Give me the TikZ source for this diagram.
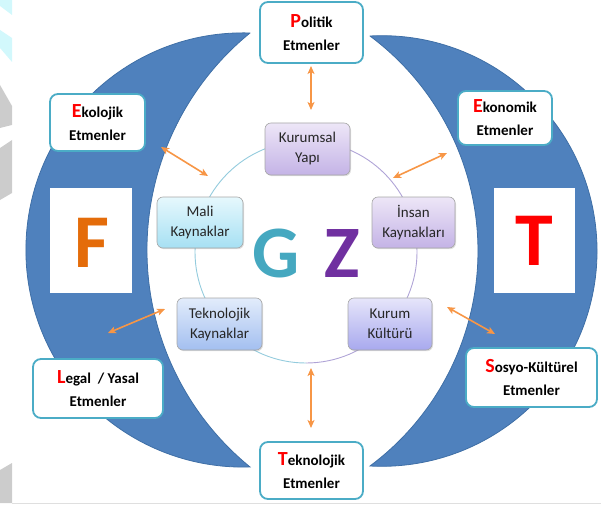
\documentclass[tikz,border=0pt]{standalone}
\usepackage{fontspec}
\setmainfont{Carlito}
\usetikzlibrary{arrows.meta,shadows}
\definecolor{cresc}{HTML}{4F81BD}
\definecolor{crescline}{HTML}{3F6FA6}
\definecolor{boxcyan}{HTML}{4BACC6}
\definecolor{arrorange}{HTML}{F79646}
\definecolor{lettF}{HTML}{E46C0A}
\definecolor{lettG}{HTML}{45A8C0}
\definecolor{lettZ}{HTML}{7030A0}
\definecolor{wmcyan}{HTML}{D2F8FC}
\definecolor{wmgray}{HTML}{CCCCCC}
\definecolor{txt}{HTML}{262626}
\definecolor{circL}{HTML}{93CBDD}
\definecolor{circR}{HTML}{AFA3D6}
\definecolor{lavT}{HTML}{EDE6F7}
\definecolor{lavB}{HTML}{C4B3E6}
\definecolor{cyT}{HTML}{E6F8FD}
\definecolor{cyB}{HTML}{A6E0F3}
\definecolor{blT}{HTML}{E2ECFB}
\definecolor{blB}{HTML}{A3BFF0}
\definecolor{pbT}{HTML}{E6E5FA}
\definecolor{pbB}{HTML}{A8A9EE}
\newcommand{\redl}[1]{{\fontsize{20}{23}\selectfont\color{red}#1}}
\begin{document}
\begin{tikzpicture}[x=1pt,y=-1pt,
  crescent/.style={fill=cresc,draw=crescline,line width=0.8pt},
  outerbox/.style={draw=boxcyan,line width=1.8pt,fill=white,rounded corners=8pt,
    align=center,inner sep=0pt,text=black,font=\bfseries\fontsize{15}{23}\selectfont},
  innerbox/.style={draw=gray!70,line width=0.6pt,rounded corners=6pt,align=center,inner sep=0pt,
    text=txt,font=\fontsize{15}{20}\selectfont,
    drop shadow={opacity=0.25,shadow xshift=1pt,shadow yshift=-1.2pt}},
  letterbox/.style={fill=white,inner sep=0pt},
  biarrow/.style={draw=arrorange,line width=1.6pt,{Stealth[length=8pt,width=7pt,inset=2pt]}-{Stealth[length=8pt,width=7pt,inset=2pt]}},
  bigletter/.style={font=\bfseries\fontsize{76}{76}\selectfont,inner sep=0pt,anchor=base}
]
\useasboundingbox (0,0) rectangle (601,505);
% faint watermark on the left edge
\fill[wmcyan] (0,0) -- (12,0) -- (12,15) -- (0,6) -- cycle;
\fill[wmcyan] (0,30) -- (12,38) -- (12,62) -- (0,48) -- cycle;
\fill[wmgray] (0,85) -- (12,106) -- (12,125) -- (0,128) -- cycle;
\fill[wmgray] (0,148) -- (12,140) -- (12,193) -- (0,200) -- cycle;
\fill[wmgray] (0,470) -- (12,463) -- (12,503) -- (0,503) -- cycle;
\draw[gray!25,line width=0.6pt] (12,503.5) -- (601,503.5);
% crescents
\path[crescent] (250,33) arc[start angle=-88.15,end angle=-271.85,radius=217.1]
  arc[start angle=129.2,end angle=230.8,radius=280] -- cycle;
\path[crescent] (370,36) arc[start angle=-93.115,end angle=93.115,radius=215.32]
  arc[start angle=53.34,end angle=-53.34,radius=268] -- cycle;
% F and T boxes
\node[letterbox,minimum width=82pt,minimum height=105pt] (fbox) at (91,240.5) {};
\node[letterbox,minimum width=81pt,minimum height=105pt] (tbox) at (534.5,240.5) {};
\node[bigletter,text=lettF] (F) at (92,267) {F};
\node[bigletter,text=red] (T) at (534.5,265) {T};
% circle
\draw[circL,line width=0.9pt] (306,141) arc[start angle=-90,end angle=-270,radius=111];
\draw[circR,line width=0.9pt] (306,141) arc[start angle=-90,end angle=90,radius=111];
% inner boxes
\node[innerbox,top color=lavT,bottom color=lavB,minimum width=85pt,minimum height=52pt] (kur) at (307.5,149) {Kurumsal\\Yapı};
\node[innerbox,top color=lavT,bottom color=lavB,minimum width=83pt,minimum height=51pt] (ins) at (413.5,222.5) {İnsan\\Kaynakları};
\node[innerbox,top color=cyT,bottom color=cyB,minimum width=86pt,minimum height=51pt] (mali) at (200,222.5) {Mali\\Kaynaklar};
\node[innerbox,top color=blT,bottom color=blB,minimum width=85pt,minimum height=52pt] (tekk) at (219.5,324) {Teknolojik\\Kaynaklar};
\node[innerbox,top color=pbT,bottom color=pbB,minimum width=84pt,minimum height=52pt] (kk) at (390,324) {Kurum\\Kültürü};
% G Z
\node[bigletter,font=\bfseries\fontsize{74}{74}\selectfont,text=lettG] (G) at (276.5,277) {G};
\node[bigletter,font=\bfseries\fontsize{74}{74}\selectfont,text=lettZ] (Z) at (342,277) {Z};
% outer boxes
\node[outerbox,minimum width=103pt,minimum height=61pt] (pol) at (311.5,32.5) {\redl{P}olitik\\Etmenler};
\node[outerbox,minimum width=95pt,minimum height=57pt] (eko) at (97.5,122.5) {\redl{E}kolojik\\Etmenler};
\node[outerbox,minimum width=94pt,minimum height=54pt] (ekn) at (505,118) {\redl{E}konomik\\Etmenler};
\node[outerbox,minimum width=130pt,minimum height=59pt] (leg) at (98,388.5) {\redl{L}egal\ \ / Yasal\\Etmenler};
\node[outerbox,minimum width=131pt,minimum height=59pt] (sos) at (531.5,377.5) {\redl{S}osyo-Kültürel\\Etmenler};
\node[outerbox,minimum width=103pt,minimum height=57pt] (tek) at (311.5,470.5) {\redl{T}eknolojik\\Etmenler};
% arrow ends
\coordinate (a1) at (311,66);   \coordinate (b1) at (311,110);
\coordinate (a2) at (161,147);  \coordinate (b2) at (208,176);
\coordinate (a3) at (447,153);  \coordinate (b3) at (393,178);
\coordinate (a4) at (108,333);  \coordinate (b4) at (165,309);
\coordinate (a5) at (447,307);  \coordinate (b5) at (495,334);
\coordinate (a6) at (311,368);  \coordinate (b6) at (311,428);
\draw[biarrow] (a1) -- (b1);
\draw[biarrow] (a2) -- (b2);
\draw[biarrow] (a3) -- (b3);
\draw[biarrow] (a4) -- (b4);
\draw[biarrow] (a5) -- (b5);
\draw[biarrow] (a6) -- (b6);
\end{tikzpicture}
\end{document}
